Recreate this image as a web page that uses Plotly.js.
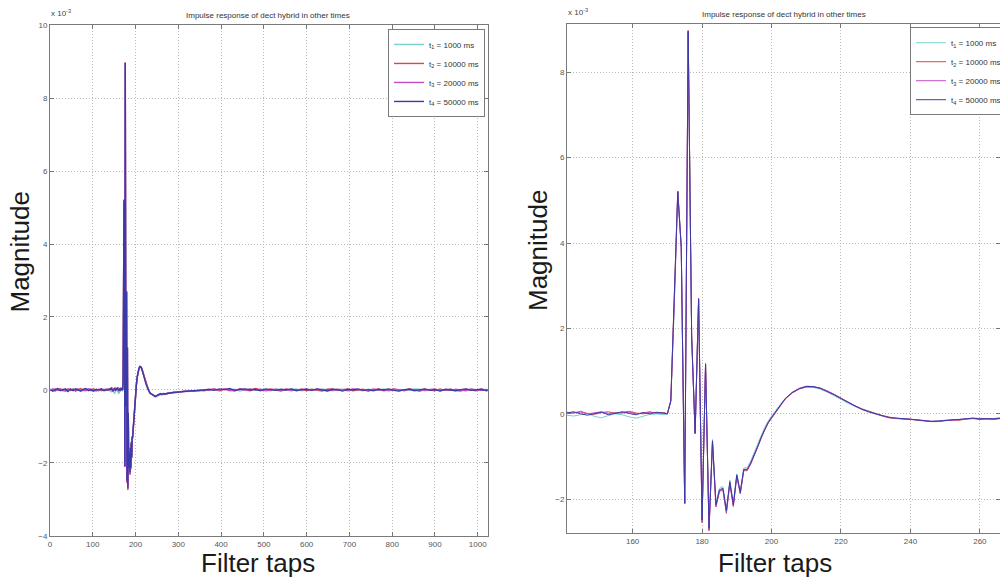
<!DOCTYPE html>
<html>
<head>
<meta charset="utf-8">
<script src="https://cdn.plot.ly/plotly-3.0.1.min.js"></script>
<style>html,body{margin:0;padding:0;background:#fff;}#chart{width:1000px;height:579px;}</style>
</head>
<body>
<div id="chart"></div>
<script>
// ---- Data (magnitude in units of 1e-3) ----
const taps = [
  0,6,12,18,24,30,36,42,48,54,60,66,72,78,84,90,96,102,108,114,120,126,132,138,
  141,143,145,147,149,151,153,155,157,159,161,163,165,167,169,
  170,171,172,173,174,175,176,177,178,179,180,181,182,183,184,185,186,187,188,189,190,191,192,193,194,195,196,197,198,199,200,
  202,204,206,208,210,212,214,216,218,220,222,224,226,228,230,232,234,236,238,240,242,244,246,248,250,252,254,256,258,260,262,264,266,268,270,
  276,288,300,312,324,336,348,360,372,384,396,408,420,432,444,456,468,480,492,504,516,528,540,552,564,576,588,600,612,624,636,648,660,672,684,696,708,720,732,744,756,768,780,792,804,816,828,840,852,864,876,888,900,912,924,936,948,960,972,984,996,1008,1020,1023
];

const t1Values = [
  -0.01,0.03,-0.02,0.00,0.03,-0.03,0.01,0.02,-0.02,0.04,-0.01,0.02,0.01,-0.03,0.00,0.03,-0.02,0.02,0.00,-0.03,0.01,0.03,-0.01,0.00,
  -0.03,-0.05,-0.02,0.01,-0.06,-0.09,-0.04,0.00,-0.02,-0.07,-0.10,-0.05,-0.01,0.00,-0.02,
  0.00,0.28,2.55,5.15,3.88,-2.05,8.90,1.78,-0.42,2.65,-2.45,1.14,-2.62,-0.60,-2.08,-1.74,-1.70,-2.22,-1.55,-2.08,-1.40,-1.80,-1.27,-1.26,-1.10,-0.90,-0.70,-0.50,-0.32,-0.17,-0.05,
  0.17,0.37,0.50,0.58,0.63,0.62,0.58,0.51,0.43,0.34,0.25,0.17,0.10,0.04,-0.01,-0.05,-0.09,-0.11,-0.12,-0.13,-0.15,-0.16,-0.17,-0.16,-0.14,-0.13,-0.12,-0.12,-0.11,-0.10,-0.12,-0.11,-0.09,-0.12,-0.10,
  -0.08,-0.08,-0.06,-0.04,-0.04,-0.01,-0.03,0.01,0.00,0.02,-0.02,0.03,0.00,0.02,-0.03,0.01,0.03,-0.01,0.02,0.00,-0.02,0.03,0.01,-0.01,0.02,0.03,-0.02,0.00,0.02,-0.01,0.03,0.01,-0.02,0.00,0.02,-0.01,0.03,0.00,-0.02,0.02,0.01,-0.01,0.03,0.00,0.02,-0.02,0.01,-0.01,0.03,0.02,-0.02,0.00,0.02,-0.01,0.01,0.03,-0.02,0.00,0.01,0.02,-0.01,0.00,0.02,-0.01
];

const t2Values = [
  0.01,0.00,-0.03,0.02,0.03,-0.01,-0.02,0.03,0.00,0.02,-0.03,0.01,0.04,-0.01,0.00,0.02,-0.02,0.03,-0.01,0.02,-0.02,0.00,0.03,-0.01,
  0.04,0.02,0.06,0.01,-0.01,0.03,0.05,0.01,0.03,0.06,0.02,0.00,0.04,0.02,0.03,
  0.00,0.32,2.62,5.22,3.92,-2.10,8.98,1.82,-0.47,2.71,-2.55,1.18,-2.74,-0.66,-2.18,-1.82,-1.78,-2.33,-1.63,-2.17,-1.46,-1.87,-1.33,-1.33,-1.18,-0.98,-0.78,-0.57,-0.38,-0.22,-0.10,
  0.14,0.35,0.49,0.59,0.63,0.63,0.61,0.54,0.46,0.37,0.28,0.19,0.12,0.06,0.01,-0.04,-0.08,-0.11,-0.12,-0.12,-0.15,-0.17,-0.18,-0.18,-0.16,-0.14,-0.15,-0.12,-0.11,-0.13,-0.12,-0.13,-0.11,-0.12,-0.11,
  -0.10,-0.06,-0.06,-0.03,-0.04,-0.03,-0.01,-0.02,0.01,0.03,-0.02,0.02,0.00,-0.03,0.03,0.01,-0.02,0.04,0.00,-0.01,0.03,0.00,-0.03,0.02,0.01,-0.01,0.03,-0.02,0.02,0.00,-0.03,0.02,0.03,-0.01,0.00,0.03,-0.02,0.01,0.02,-0.03,0.01,0.03,-0.02,0.00,0.02,0.01,-0.02,0.03,0.00,-0.03,0.02,0.01,-0.02,0.03,-0.01,0.02,0.00,-0.03,0.02,0.01,-0.02,0.03,0.00,-0.02
];

const t3Values = [
  -0.02,0.02,0.03,-0.01,0.00,0.02,-0.03,0.01,0.03,-0.02,0.01,0.03,-0.01,0.00,-0.02,0.03,0.02,-0.01,-0.03,0.01,0.02,-0.01,0.00,0.03,
  0.01,0.03,0.04,0.00,0.02,0.05,0.01,0.03,0.02,0.04,0.00,0.02,0.05,0.01,0.03,
  0.00,0.31,2.61,5.21,3.91,-2.11,8.97,1.81,-0.46,2.70,-2.53,1.17,-2.72,-0.65,-2.16,-1.80,-1.76,-2.30,-1.61,-2.15,-1.45,-1.86,-1.32,-1.31,-1.16,-0.96,-0.76,-0.56,-0.37,-0.21,-0.09,
  0.15,0.36,0.51,0.60,0.65,0.64,0.60,0.54,0.46,0.36,0.27,0.18,0.11,0.05,0.00,-0.05,-0.09,-0.10,-0.12,-0.13,-0.14,-0.16,-0.17,-0.17,-0.15,-0.15,-0.13,-0.12,-0.10,-0.11,-0.12,-0.11,-0.10,-0.12,-0.11,
  -0.09,-0.08,-0.05,-0.04,-0.02,-0.03,-0.01,0.01,-0.01,0.02,0.00,0.03,-0.02,0.01,0.02,-0.01,0.03,0.00,0.02,-0.02,0.00,0.02,-0.01,0.03,-0.02,0.01,0.00,0.03,-0.01,0.02,0.01,-0.03,0.00,0.02,0.01,-0.02,0.03,0.01,0.00,-0.02,0.03,0.00,0.01,-0.02,0.02,0.00,-0.01,0.03,0.01,-0.02,0.00,0.02,0.03,-0.02,0.01,-0.01,0.02,0.00,-0.02,0.03,0.01,-0.01,0.00,0.02
];

const t4Values = [
  0.02,-0.03,0.01,0.04,-0.02,0.00,0.03,-0.04,0.02,-0.01,0.03,0.00,-0.03,0.02,0.04,-0.02,0.01,-0.03,0.02,0.00,0.03,-0.02,0.01,0.02,
  0.02,0.05,0.00,-0.03,0.01,0.04,-0.02,0.02,0.05,0.01,-0.02,0.03,0.00,0.04,0.02,
  0.00,0.30,2.60,5.20,3.90,-2.09,8.96,1.80,-0.45,2.69,-2.49,1.16,-2.68,-0.63,-2.13,-1.78,-1.74,-2.27,-1.59,-2.13,-1.43,-1.84,-1.30,-1.30,-1.15,-0.97,-0.77,-0.55,-0.37,-0.21,-0.08,
  0.15,0.36,0.50,0.59,0.64,0.64,0.60,0.53,0.45,0.36,0.27,0.18,0.11,0.05,0.00,-0.05,-0.09,-0.10,-0.11,-0.12,-0.14,-0.16,-0.18,-0.17,-0.15,-0.14,-0.13,-0.11,-0.10,-0.12,-0.11,-0.12,-0.10,-0.11,-0.10,
  -0.09,-0.07,-0.05,-0.05,-0.03,-0.02,-0.02,0.00,0.02,-0.01,0.03,0.01,0.04,-0.01,0.02,0.03,0.00,0.02,-0.02,0.03,0.01,-0.01,0.02,0.00,0.03,-0.02,0.01,0.02,-0.01,0.03,0.00,-0.02,0.02,0.01,-0.03,0.02,0.00,0.03,-0.01,0.01,-0.02,0.02,0.00,0.03,-0.01,-0.03,0.01,0.02,-0.02,0.00,0.03,-0.01,0.01,-0.03,0.02,0.00,-0.02,0.01,0.03,-0.01,0.00,0.02,-0.02,0.01
];

const seriesNames = ['t<sub>1</sub> = 1000 ms','t<sub>2</sub> = 10000 ms','t<sub>3</sub> = 20000 ms','t<sub>4</sub> = 50000 ms'];
const xTicksLeft = [0,100,200,300,400,500,600,700,800,900,1000];
const yTicksLeft = [-4,-2,0,2,4,6,8,10];
const xTicksRight = [160,180,200,220,240,260];
const yTicksRight = [-2,0,2,4,6,8];
const chartTitle = 'Impulse response of dect hybrid in other times';
const xTitle = 'Filter taps';
const yTitle = 'Magnitude';
const scaleLabel = 'x 10<sup>-3</sup>';

// ---- Styles ----
const seriesColors = ['#76d3cb','#d9474b','#c54cc5','#3a3aa8'];
const allValues = [t1Values,t2Values,t3Values,t4Values];
const FONT = 'Liberation Sans, Arial, sans-serif';

const traces = [];
allValues.forEach((vals,i)=>{
  traces.push({type:'scatter',mode:'lines',x:taps,y:vals,xaxis:'x',yaxis:'y',
    name:seriesNames[i],legend:'legend',line:{color:seriesColors[i],width:1.4}});
});
allValues.forEach((vals,i)=>{
  traces.push({type:'scatter',mode:'lines',x:taps,y:vals,xaxis:'x2',yaxis:'y2',
    name:seriesNames[i],legend:'legend2',line:{color:seriesColors[i],width:1}});
});

const axisCommon = {
  ticks:'inside', ticklen:4, tickcolor:'#777', showline:true, linecolor:'#7a7a7a', linewidth:1,
  mirror:'ticks', showgrid:true, gridcolor:'#b8b8b8', griddash:'1px,2px', gridwidth:1, zeroline:false,
  tickfont:{size:8,color:'#555',family:FONT}
};
const bigFont = {size:26,color:'#1a1a1a',family:FONT};

const legendCommon = {
  bgcolor:'#ffffff', bordercolor:'#7a7a7a', borderwidth:1,
  font:{size:8,color:'#333',family:FONT},
  itemwidth:30, yanchor:'top', tracegroupgap:0
};

const layout = {
  width:1000, height:579,
  margin:{l:0,r:0,t:0,b:0,autoexpand:false},
  paper_bgcolor:'#ffffff', plot_bgcolor:'#ffffff',
  font:{family:FONT,color:'#333'},
  showlegend:true,
  xaxis:Object.assign({},axisCommon,{domain:[0.050,0.488],range:[0,1024],tickvals:xTicksLeft,anchor:'y'}),
  yaxis:Object.assign({},axisCommon,{domain:[0.0743,0.9568],range:[-4,10],tickvals:yTicksLeft,anchor:'x'}),
  xaxis2:Object.assign({},axisCommon,{domain:[0.567,1.0],range:[141.1,265.8],tickvals:xTicksRight,anchor:'y2'}),
  yaxis2:Object.assign({},axisCommon,{domain:[0.0794,0.9585],range:[-2.79,9.13],tickvals:yTicksRight,anchor:'x2'}),
  legend:Object.assign({},legendCommon,{x:0.485,xanchor:'right',y:0.95}),
  legend2:Object.assign({},legendCommon,{x:0.910,xanchor:'left',y:0.953}),
  annotations:[
    {text:chartTitle,xref:'paper',yref:'paper',x:0.268,y:0.9724,showarrow:false,font:{size:8,color:'#333'},xanchor:'center',yanchor:'middle'},
    {text:chartTitle,xref:'paper',yref:'paper',x:0.7835,y:0.9741,showarrow:false,font:{size:8,color:'#333'},xanchor:'center',yanchor:'middle'},
    {text:scaleLabel,xref:'paper',yref:'paper',x:0.049,y:0.9655,showarrow:false,font:{size:8,color:'#444'},xanchor:'left',yanchor:'bottom'},
    {text:scaleLabel,xref:'paper',yref:'paper',x:0.566,y:0.9672,showarrow:false,font:{size:8,color:'#444'},xanchor:'left',yanchor:'bottom'},
    {text:xTitle,xref:'paper',yref:'paper',x:0.258,y:1-563/579,showarrow:false,font:bigFont,xanchor:'center',yanchor:'middle'},
    {text:xTitle,xref:'paper',yref:'paper',x:0.7745,y:1-563/579,showarrow:false,font:bigFont,xanchor:'center',yanchor:'middle'},
    {text:yTitle,xref:'paper',yref:'paper',x:0.020,y:1-252.5/579,showarrow:false,font:bigFont,textangle:-90,xanchor:'center',yanchor:'middle'},
    {text:yTitle,xref:'paper',yref:'paper',x:0.538,y:1-251/579,showarrow:false,font:bigFont,textangle:-90,xanchor:'center',yanchor:'middle'}
  ]
};

Plotly.newPlot('chart',traces,layout,{staticPlot:true,displayModeBar:false});
</script>
</body>
</html>
